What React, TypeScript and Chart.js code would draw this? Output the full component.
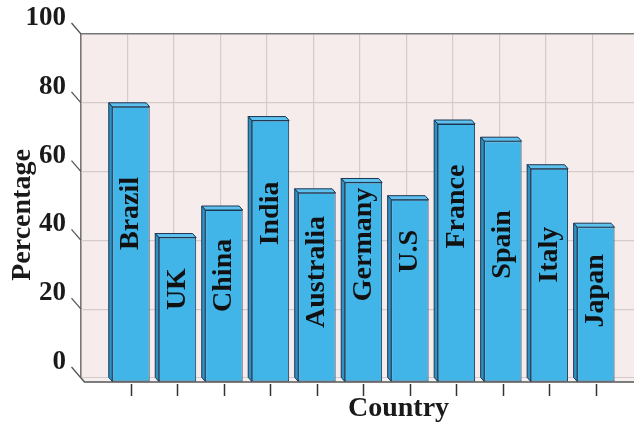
import { useEffect, useRef } from 'react';
import { Chart, registerables } from 'chart.js';

Chart.register(...registerables);

// ---- data ----
const countries = ['Brazil', 'UK', 'China', 'India', 'Australia', 'Germany', 'U.S', 'France', 'Spain', 'Italy', 'Japan'];
const percentages = [80, 42, 50, 76, 55, 58, 53, 75, 70, 62, 45];
// level (in % units) where each in-bar country name is centred
const labelLevels = [49, 27, 31, 49, 32, 40, 38, 51, 40, 37, 26.5];
const yMin = 0;
const yMax = 100;
const yStep = 20;
const xMin = -1;
const xMax = 12.66;
const yTitle = 'Percentage';
const xTitle = 'Country';

// ---- look ----
const W = 716;
const H = 426;
const FONT = "'Liberation Serif', 'Times New Roman', serif";
const DX = 3.5;
const DY = 4;
const FRONT = '#41B4E8';
const TOP = '#5FC1EE';
const SIDE = '#2C93C4';
const EDGE = '#1C3652';
const WALL = '#F6ECEC';
const GRID = '#D6CACA';
const FRAME = '#777777';

const depthPlugin = {
  id: 'depth3d',
  beforeDraw(chart: any) {
    const { ctx, chartArea: a } = chart;
    ctx.save();
    ctx.fillStyle = WALL;
    ctx.fillRect(a.left, a.top, a.right - a.left, a.bottom - a.top);
    ctx.restore();
  },
  beforeDatasetsDraw(chart: any) {
    const { ctx, chartArea: a, scales } = chart;
    ctx.save();
    // floor
    ctx.beginPath();
    ctx.moveTo(a.left, a.bottom);
    ctx.lineTo(a.right, a.bottom);
    ctx.lineTo(a.right + DX, a.bottom + DY);
    ctx.lineTo(a.left + DX, a.bottom + DY);
    ctx.closePath();
    ctx.fillStyle = '#F4EEEE';
    ctx.fill();
    ctx.strokeStyle = '#555';
    ctx.lineWidth = 1.5;
    ctx.beginPath();
    ctx.moveTo(a.left, a.bottom);
    ctx.lineTo(a.left + DX, a.bottom + DY);
    ctx.lineTo(a.right + DX, a.bottom + DY);
    ctx.stroke();
    // diagonal y ticks
    const ys = scales.y;
    ctx.strokeStyle = '#555';
    ctx.lineWidth = 1.3;
    ys.ticks.forEach((t: any) => {
      const py = ys.getPixelForValue(t.value);
      ctx.beginPath();
      ctx.moveTo(a.left - 9.5, py - 11);
      ctx.lineTo(a.left, py);
      ctx.stroke();
    });
    // x tick marks
    const xs = scales.x;
    ctx.strokeStyle = '#333';
    ctx.lineWidth = 1.5;
    countries.forEach((_, i) => {
      const px = Math.round(xs.getPixelForValue(i) + DX) + 0.5;
      ctx.beginPath();
      ctx.moveTo(px, a.bottom + DY + 2);
      ctx.lineTo(px, a.bottom + DY + 14);
      ctx.stroke();
    });
    ctx.restore();
    // shift the front faces of the bars forward
    ctx.save();
    ctx.translate(DX, DY);
  },
  afterDatasetsDraw(chart: any) {
    const { ctx, scales } = chart;
    ctx.restore();
    const meta = chart.getDatasetMeta(0);
    ctx.save();
    ctx.lineWidth = 1;
    ctx.strokeStyle = EDGE;
    ctx.lineJoin = 'round';
    meta.data.forEach((bar: any) => {
      const { x, y, base, width } = bar.getProps(['x', 'y', 'base', 'width'], true);
      const xl = x - width / 2;
      const xr = x + width / 2;
      // top face
      ctx.beginPath();
      ctx.moveTo(xl, y);
      ctx.lineTo(xr, y);
      ctx.lineTo(xr + DX, y + DY);
      ctx.lineTo(xl + DX, y + DY);
      ctx.closePath();
      ctx.fillStyle = TOP;
      ctx.fill();
      ctx.stroke();
      // left side face
      ctx.beginPath();
      ctx.moveTo(xl, y);
      ctx.lineTo(xl + DX, y + DY);
      ctx.lineTo(xl + DX, base + DY);
      ctx.lineTo(xl, base);
      ctx.closePath();
      ctx.fillStyle = SIDE;
      ctx.fill();
      ctx.stroke();
    });
    // in-bar labels
    ctx.fillStyle = '#111';
    ctx.font = `bold 28px ${FONT}`;
    ctx.textAlign = 'center';
    ctx.textBaseline = 'middle';
    meta.data.forEach((bar: any, i: number) => {
      const { x } = bar.getProps(['x'], true);
      const py = scales.y.getPixelForValue(labelLevels[i]) + DY;
      ctx.save();
      ctx.translate(x + DX, py);
      ctx.rotate(-Math.PI / 2);
      ctx.fillText(countries[i], 0, 0);
      ctx.restore();
    });
    ctx.restore();
  },
  afterDraw(chart: any) {
    const { ctx, chartArea: a } = chart;
    // y axis title (sits a little below the wall's middle, as in the original)
    ctx.save();
    ctx.fillStyle = '#1a1a1a';
    ctx.font = `bold 28px ${FONT}`;
    ctx.textAlign = 'center';
    ctx.textBaseline = 'middle';
    ctx.translate(22.5, (a.top + a.bottom) / 2 + 9);
    ctx.rotate(-Math.PI / 2);
    ctx.fillText(yTitle, 0, 0);
    ctx.restore();
  },
};

export default function App() {
  const ref = useRef<HTMLCanvasElement | null>(null);

  useEffect(() => {
    if (!ref.current) return;
    const chart = new Chart(ref.current, {
      type: 'bar',
      data: {
        datasets: [
          {
            label: yTitle,
            data: percentages.map((v, i) => ({ x: i, y: v })),
            backgroundColor: FRONT,
            borderColor: EDGE,
            borderWidth: 1,
            borderSkipped: false,
            barPercentage: 0.805,
            categoryPercentage: 1,
            clip: false,
          } as any,
        ],
      },
      options: {
        responsive: false,
        animation: false,
        devicePixelRatio: 1,
        layout: { padding: { top: 34, left: 0, right: 0, bottom: 0 } },
        plugins: { legend: { display: false }, tooltip: { enabled: false } },
        scales: {
          x: {
            type: 'linear',
            min: xMin,
            max: xMax,
            offset: false,
            ticks: { display: false, stepSize: 1 },
            grid: {
              offset: false,
              drawTicks: false,
              color: (c: any) => (c.tick && c.tick.value === xMin ? FRAME : GRID),
              lineWidth: (c: any) => (c.tick && c.tick.value === xMin ? 1.6 : 1.2),
            },
            border: { display: false },
            title: {
              display: true,
              text: xTitle,
              color: '#1a1a1a',
              font: { family: FONT, size: 28, weight: 'bold' },
              padding: { top: 0, bottom: 0 },
            },
            afterFit(scale: any) {
              scale.height = 48;
            },
          },
          y: {
            min: yMin,
            max: yMax,
            ticks: {
              stepSize: yStep,
              padding: 15,
              labelOffset: -16,
              color: '#1a1a1a',
              font: { family: FONT, size: 27, weight: 'bold' },
            },
            grid: {
              drawTicks: false,
              color: (c: any) => (c.tick && c.tick.value === yMax ? FRAME : GRID),
              lineWidth: (c: any) => (c.tick && c.tick.value === yMax ? 1.6 : 1.2),
            },
            border: { display: false },
            title: { display: false, text: yTitle },
            afterFit(scale: any) {
              scale.width = 81;
            },
          },
        },
      } as any,
      plugins: [depthPlugin],
    });
    return () => chart.destroy();
  }, []);

  return (
    <div style={{ position: 'fixed', left: 0, top: 0, width: 634, height: 422, overflow: 'hidden', background: '#fff' }}>
      <canvas ref={ref} width={W} height={H} style={{ display: 'block', width: W, height: H }} />
    </div>
  );
}
